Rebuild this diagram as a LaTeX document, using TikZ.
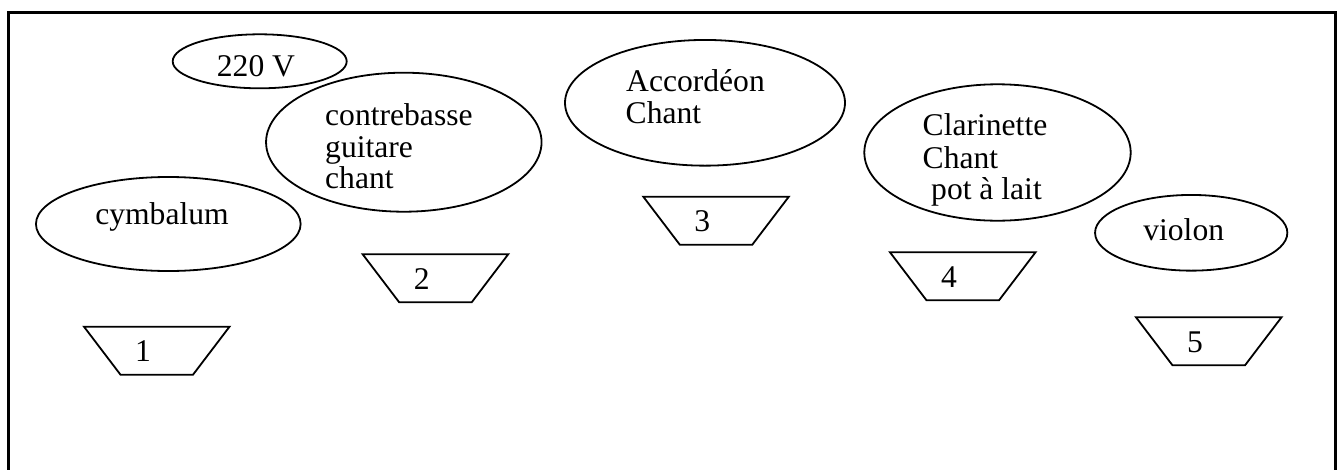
\documentclass[tikz,border=0pt]{standalone}
\usepackage{fontspec}
\setmainfont{Liberation Serif}
\usetikzlibrary{shapes.geometric}
\tikzset{
  oval/.style={ellipse, draw, line width=1.8pt, inner sep=0pt},
  lbl/.style={inner sep=0pt, font=\fontsize{31.6}{32}\selectfont},
  bin/.style={draw, line width=1.8pt, line join=miter},
  frame/.style={draw, line width=3.4pt}
}
\begin{document}
\begin{tikzpicture}[x=1pt,y=-1pt]
\useasboundingbox (0,0) rectangle (1339,469);
\begin{scope}
\clip (0,0) rectangle (1339,469);
\draw[frame] (8.4,12.6) rectangle (1335.6,490);
\end{scope}
% ellipses
\node[oval, minimum width=174pt, minimum height=54pt] (v220) at (259.7,61.3) {};
\node[oval, minimum width=275.5pt, minimum height=139pt] (cb) at (403.8,142.2) {};
\node[oval, minimum width=264.7pt, minimum height=94pt] (cy) at (168.3,224) {};
\node[oval, minimum width=280pt, minimum height=125.7pt] (ac) at (705,102.8) {};
\node[oval, minimum width=266.4pt, minimum height=136.4pt] (cl) at (997.5,152.5) {};
\node[oval, minimum width=192.3pt, minimum height=75.7pt] (vi) at (1191.2,232.8) {};
% texts
\node[lbl, anchor=base] (t220) at (256,76) {220 V};
\node[lbl, anchor=base west] (tcb1) at (325,125) {contrebasse};
\node[lbl, anchor=base west] (tcb2) at (325,157.3) {guitare};
\node[lbl, anchor=base west] (tcb3) at (325,188.5) {chant};
\node[lbl, anchor=base] (tcy) at (162,224.3) {cymbalum};
\node[lbl, anchor=base west] (tac1) at (626,91.7) {Accordéon};
\node[lbl, anchor=base west] (tac2) at (625.5,123.3) {Chant};
\node[lbl, anchor=base west] (tcl1) at (922.5,135) {Clarinette};
\node[lbl, anchor=base west] (tcl2) at (922.5,168) {Chant};
\node[lbl, anchor=base west] (tcl3) at (931,199.3) {pot à lait};
\node[lbl, anchor=base] (tvi) at (1183.7,240) {violon};
% trapezoids
\foreach \n/\x/\y in {1/84/326.7, 2/362.7/254.3, 3/643.3/196.7, 4/890/252.3, 5/1136/317.3}{
  \draw[bin] (\x,\y) -- ++(145.5,0) -- ++(-36.5,48) -- ++(-72.5,0) -- cycle;
  \node[lbl, anchor=base] (n\n) at (\x+59,\y+35) {\n};
}
\end{tikzpicture}
\end{document}
